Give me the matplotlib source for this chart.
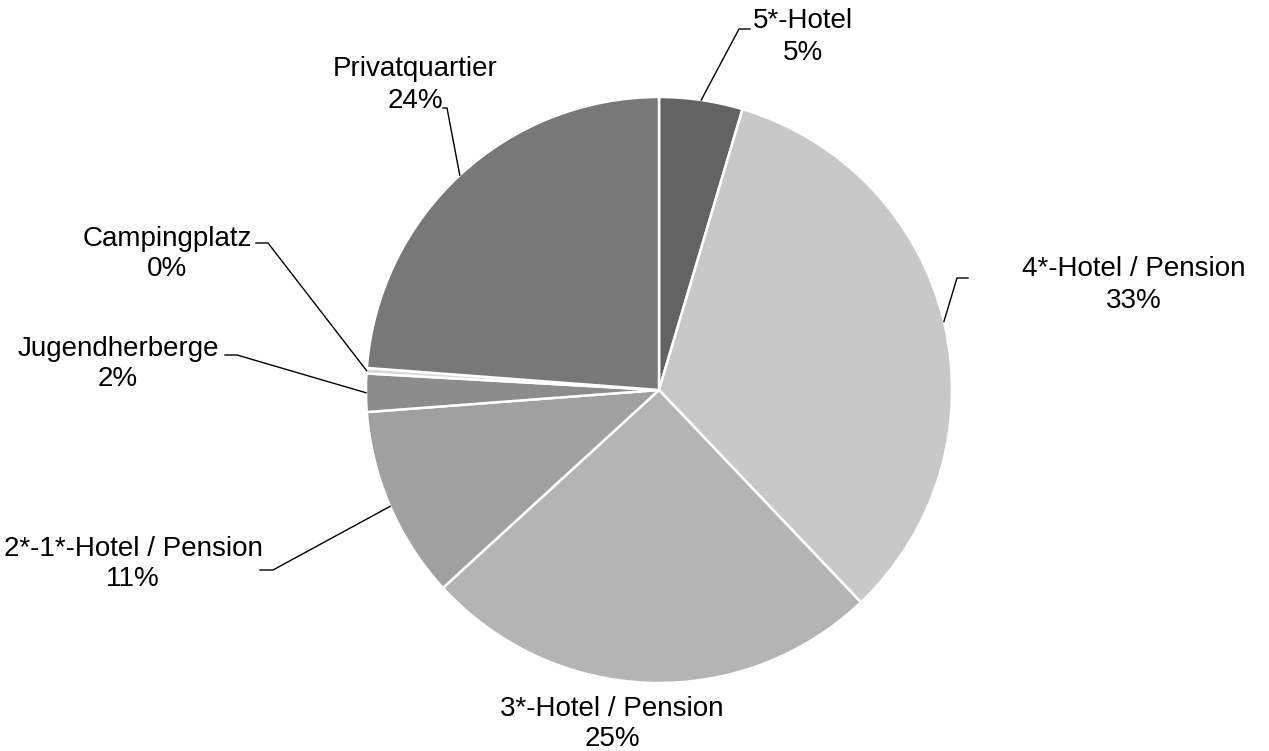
import matplotlib.pyplot as plt
import numpy as np

# shares of overnight stays by type of accommodation
categories = ['5*-Hotel', '4*-Hotel / Pension', '3*-Hotel / Pension',
              '2*-1*-Hotel / Pension', 'Jugendherberge', 'Campingplatz',
              'Privatquartier']
shares = [4.6, 33.3, 25.3, 10.6, 2.1, 0.3, 23.8]
colors = ['#636363', '#c8c8c8', '#b4b4b4', '#a0a0a0', '#8c8c8c', '#d9d9d9', '#787878']

W, H = 1269, 751
CX, CY, R = 659, 390, 293

# label centres and leader elbows in pixel coords (y from top)
label_pos = [(803, 37), (1134, 285), (612, 724), (133, 564),
             (118, 364), (167, 254), (415, 85)]
elbows = [[(739, 29), (750, 29)],
          [(957, 278), (968, 278)],
          None,
          [(273, 570), (260, 570)],
          [(237, 355), (225, 355)],
          [(268, 243), (256, 243)],
          [(447, 108), (443, 108)]]


def px(x, y):
    return x, H - y


plt.rcParams['font.family'] = ['Liberation Sans', 'DejaVu Sans']

fig = plt.figure(figsize=(W / 100, H / 100), dpi=100)
ax = fig.add_axes([0, 0, 1, 1])

wedges, _ = ax.pie(shares, colors=colors, startangle=90, counterclock=False,
                   center=px(CX, CY), radius=R,
                   wedgeprops=dict(edgecolor='white', linewidth=1.8))
ax.set_xlim(0, W)
ax.set_ylim(0, H)
ax.set_aspect('equal')
ax.axis('off')

for w, name, val, pos, elb in zip(wedges, categories, shares, label_pos, elbows):
    ax.text(*px(*pos), f'{name}\n{val:.0f}%', ha='center', va='center',
            fontsize=20, color='black', linespacing=1.25)
    if elb is None:
        continue
    mid = np.deg2rad((w.theta1 + w.theta2) / 2)
    sx = CX + R * np.cos(mid)
    sy = H - CY + R * np.sin(mid)
    xs = [sx] + [e[0] for e in elb]
    ys = [sy] + [H - e[1] for e in elb]
    ax.plot(xs, ys, color='black', linewidth=1.0)

fig.savefig('out.png', dpi=100)
